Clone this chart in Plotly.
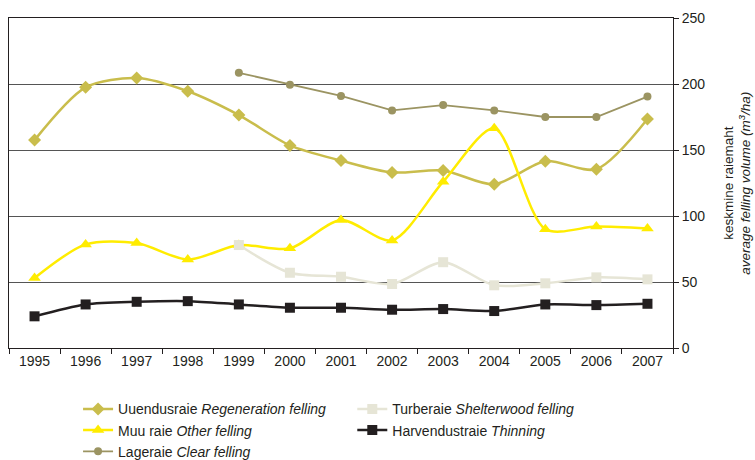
import plotly.graph_objects as go

years = [str(y) for y in range(1995, 2008)]
regeneration = [157.5, 197.5, 204.5, 194.5, 176.5, 153.5, 142, 133, 134.5, 124, 141.5, 135.5, 173.5]
other = [53, 78.5, 79.5, 67, 78, 75.5, 97, 81.5, 126, 166.5, 90, 92, 90.5]
clear_years = years[4:]
clear = [208.5, 199.5, 191, 180, 184, 180, 175, 175, 190.5]
shelter_years = years[4:]
shelter = [78, 57, 54, 48.5, 65, 47.5, 49, 53.5, 52]
thinning = [24, 33, 35, 35.5, 33, 30.5, 30.5, 29, 29.5, 28, 33, 32.5, 33.5]
yticks = [0, 50, 100, 150, 200, 250]

fig = go.Figure()
fig.add_trace(go.Scatter(x=years, y=regeneration, mode="lines+markers",
    name="Uuendusraie <i>Regeneration felling</i>", legendgroup="a",
    line=dict(color="#c9bd4c", width=2.5, shape="spline", smoothing=0.8),
    marker=dict(symbol="diamond", size=10, color="#c9bd4c"), legend="legend"))
fig.add_trace(go.Scatter(x=years, y=other, mode="lines+markers",
    name="Muu raie <i>Other felling</i>", legendgroup="b",
    line=dict(color="#ffec00", width=2.5, shape="spline", smoothing=0.8),
    marker=dict(symbol="triangle-up", size=11, color="#ffec00"), legend="legend"))
fig.add_trace(go.Scatter(x=clear_years, y=clear, mode="lines+markers",
    name="Lageraie <i>Clear felling</i>", legendgroup="c",
    line=dict(color="#9b9462", width=1.8),
    marker=dict(symbol="circle", size=8, color="#9b9462"), legend="legend"))
fig.add_trace(go.Scatter(x=shelter_years, y=shelter, mode="lines+markers",
    name="Turberaie <i>Shelterwood felling</i>", legendgroup="d",
    line=dict(color="#e6e5d6", width=2.5, shape="spline", smoothing=0.8),
    marker=dict(symbol="square", size=10, color="#e6e5d6"), legend="legend2"))
fig.add_trace(go.Scatter(x=years, y=thinning, mode="lines+markers",
    name="Harvendustraie <i>Thinning</i>", legendgroup="e",
    line=dict(color="#231f20", width=2.5, shape="spline", smoothing=0.8),
    marker=dict(symbol="square", size=10, color="#231f20"), legend="legend2"))

font = dict(family="Liberation Sans, Arial, sans-serif", size=14, color="#231f20")
fig.update_layout(
    width=755, height=460,
    margin=dict(l=9, r=82, t=18, b=112, autoexpand=False),
    paper_bgcolor="white", plot_bgcolor="white",
    font=font,
    showlegend=True,
    legend=dict(x=0.104, y=0.145, yref="container", xanchor="left", yanchor="top",
                orientation="v", font=dict(size=14), tracegroupgap=0, itemwidth=30,
                bgcolor="rgba(0,0,0,0)"),
    legend2=dict(x=0.517, y=0.145, yref="container", xanchor="left", yanchor="top",
                 orientation="v", font=dict(size=14), tracegroupgap=0, itemwidth=30,
                 bgcolor="rgba(0,0,0,0)"),
    xaxis=dict(type="category", range=[-0.5, 12.5], tickson="boundaries", ticks="outside",
               ticklen=5, tickcolor="#231f20", showline=True, linecolor="#231f20",
               linewidth=1, mirror=True, showgrid=False, tickfont=dict(size=14),
               zeroline=False, automargin=False),
    yaxis=dict(side="right", range=[0, 250], tickvals=yticks, ticks="outside", ticklen=5,
               tickcolor="#231f20", showline=True, linecolor="#231f20", linewidth=1,
               mirror=True, showgrid=True, gridcolor="#555555", gridwidth=1,
               zeroline=False, tickfont=dict(size=14), automargin=False),
    annotations=[dict(text="keskmine raiemaht<br><i>average felling volume (m<sup>3</sup>/ha)</i>",
                      xref="paper", yref="paper", x=1.096, y=0.5, xanchor="center",
                      yanchor="middle", textangle=-90, showarrow=False,
                      font=dict(size=13.5, color="#231f20"))],
)

post = ("document.body.style.margin='0px';"
        "document.body.style.overflow='hidden';"
        "document.documentElement.style.overflow='hidden';"
        "var gd=document.getElementById('{plot_id}');"
        "Plotly.relayout(gd,{width:755,height:460});")
fig.write_html("out.html", post_script=post,
               config={"displayModeBar": False, "responsive": False})
